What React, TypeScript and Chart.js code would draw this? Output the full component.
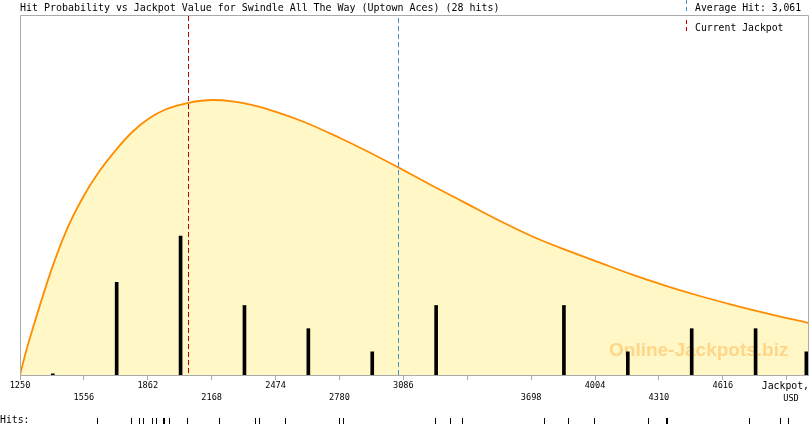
import React, { useEffect, useRef } from 'react';
import { Chart, registerables } from 'chart.js';

Chart.register(...registerables);

const chartTitle = 'Hit Probability vs Jackpot Value for Swindle All The Way (Uptown Aces) (28 hits)';
const xMin = 1250;
const xMax = 5024;

const tickValues = [1250, 1556, 1862, 2168, 2474, 2780, 3086, 3392, 3698, 4004, 4310, 4616, 4922];
const tickLabelsRow1 = ['1250', '', '1862', '', '2474', '', '3086', '', '', '4004', '', '4616', ''];
const tickLabelsRow2 = ['', '1556', '', '2168', '', '2780', '', '', '3698', '', '4310', '', ''];

const bucketCenters = [1407, 1713, 2019, 2325, 2631, 2937, 3243, 3549, 3855, 4161, 4467, 4773, 5016];
const bucketHits = [0.05, 4, 6, 3, 2, 1, 3, 0, 3, 1, 2, 2, 1];

const curveX = [1250, 1277, 1309, 1397, 1469, 1549, 1629, 1709, 1789, 1869, 1949, 2057, 2172, 2268, 2364, 2476, 2620, 2780, 2908, 3068, 3227, 3387, 3547, 3707, 3867, 4027, 4186, 4347, 4506, 4666, 4826, 5024];
const curveY = [0, 0.95, 1.94, 4.45, 6.17, 7.63, 8.78, 9.71, 10.5, 11.08, 11.47, 11.75, 11.87, 11.81, 11.65, 11.36, 10.89, 10.24, 9.68, 8.93, 8.16, 7.41, 6.66, 5.97, 5.39, 4.85, 4.32, 3.84, 3.41, 3.02, 2.66, 2.25];

const hitValues = [1621, 1784, 1822, 1841, 1880, 1899, 1937, 1942, 1963, 2048, 2201, 2374, 2393, 2518, 2776, 2796, 3237, 3309, 3366, 3760, 3875, 3999, 4258, 4345, 4350, 4743, 4891, 4930];

const currentJackpot = 2057;
const averageHit = 3061;

const MONO = '"DejaVu Sans Mono", monospace';

const overlayPlugin = {
  id: 'overlayPlugin',
  afterDatasetDraw(chart: any, args: any) {
    if (args.index !== 1) return;
    const { ctx, chartArea } = chart;
    const xs = chart.scales.x;
    ctx.save();
    // watermark
    ctx.font = 'bold 19px "Liberation Sans", Arial, sans-serif';
    ctx.fillStyle = 'rgba(255,165,50,0.42)';
    ctx.textAlign = 'left';
    ctx.textBaseline = 'alphabetic';
    ctx.fillText('Online-Jackpots.biz', chartArea.right - 199, chartArea.bottom - 19);
    // dashed lines
    ctx.lineWidth = 1;
    ctx.setLineDash([5, 3]);
    const cj = Math.round(xs.getPixelForValue(currentJackpot)) + 0.5;
    ctx.strokeStyle = '#b80000';
    ctx.beginPath();
    ctx.moveTo(cj, chartArea.top + 1);
    ctx.lineTo(cj, chartArea.bottom);
    ctx.stroke();
    const ah = Math.round(xs.getPixelForValue(averageHit)) + 0.5;
    ctx.strokeStyle = '#4a90c2';
    ctx.beginPath();
    ctx.moveTo(ah, chartArea.top + 3);
    ctx.lineTo(ah, chartArea.bottom);
    ctx.stroke();
    ctx.restore();
  },
  afterDraw(chart: any) {
    const { ctx, chartArea } = chart;
    const xs = chart.scales.x;
    ctx.save();
    // frame
    ctx.strokeStyle = '#aaaaaa';
    ctx.lineWidth = 1;
    ctx.setLineDash([]);
    ctx.beginPath();
    ctx.moveTo(chartArea.left + 0.5, chartArea.bottom);
    ctx.lineTo(chartArea.left + 0.5, chartArea.top + 0.5);
    ctx.lineTo(chartArea.right + 0.5, chartArea.top + 0.5);
    ctx.lineTo(chartArea.right + 0.5, chartArea.bottom);
    ctx.stroke();
    // title, fitted to its width in the reference
    ctx.fillStyle = '#000';
    ctx.textAlign = 'left';
    ctx.textBaseline = 'alphabetic';
    ctx.font = `10px ${MONO}`;
    const w = ctx.measureText(chartTitle).width;
    const titleSize = Math.max(8, Math.min(11, (10 * 480) / w));
    ctx.font = `${titleSize}px ${MONO}`;
    ctx.fillText(chartTitle, chartArea.left, 10.5);
    // legend
    ctx.font = `9.8px ${MONO}`;
    const lx = 686.5;
    ctx.setLineDash([4, 3]);
    ctx.strokeStyle = '#4a90c2';
    ctx.beginPath();
    ctx.moveTo(lx, 0);
    ctx.lineTo(lx, 12);
    ctx.stroke();
    ctx.strokeStyle = '#b80000';
    ctx.beginPath();
    ctx.moveTo(lx, 20);
    ctx.lineTo(lx, 32);
    ctx.stroke();
    ctx.setLineDash([]);
    ctx.fillText('Average Hit: ' + averageHit.toLocaleString('en-US'), 695, 10.5);
    ctx.fillText('Current Jackpot', 695, 30.5);
    // axis unit
    ctx.textAlign = 'right';
    ctx.fillText('Jackpot,', chartArea.right + 1, 388.5);
    ctx.textAlign = 'center';
    ctx.font = `8.6px ${MONO}`;
    ctx.fillText('USD', chartArea.right - 17, 400.5);
    // hits row
    ctx.textAlign = 'left';
    ctx.font = `9.8px ${MONO}`;
    ctx.fillText('Hits:', 0, 423.3);
    ctx.strokeStyle = '#000';
    ctx.beginPath();
    hitValues.forEach((h) => {
      const px = Math.round(xs.getPixelForValue(h)) + 0.5;
      ctx.moveTo(px, chartArea.bottom + 43);
      ctx.lineTo(px, chartArea.bottom + 49);
    });
    ctx.stroke();
    ctx.restore();
  },
};

export default function App() {
  const canvasRef = useRef<HTMLCanvasElement | null>(null);

  useEffect(() => {
    if (!canvasRef.current) return;
    const chart = new Chart(canvasRef.current, {
      type: 'line',
      data: {
        datasets: [
          {
            type: 'bar',
            label: 'Hits',
            data: bucketCenters.map((x, i) => ({ x, y: bucketHits[i] === 0 ? null : bucketHits[i] })),
            backgroundColor: '#000000',
            borderWidth: 0,
            barThickness: 3,
          } as any,
          {
            type: 'line',
            label: 'Probability',
            data: curveX.map((x, i) => ({ x, y: curveY[i] })),
            borderColor: '#ff8c00',
            borderWidth: 1.8,
            backgroundColor: '#fff8c6',
            fill: 'origin',
            pointRadius: 0,
            cubicInterpolationMode: 'monotone',
          } as any,
        ],
      },
      options: {
        animation: false,
        responsive: true,
        maintainAspectRatio: false,
        layout: { padding: { left: 20, right: 2, top: 15, bottom: 0 } },
        plugins: {
          legend: { display: false },
          tooltip: { enabled: false },
          title: { display: false },
        },
        scales: {
          x: {
            type: 'linear',
            min: xMin,
            max: xMax,
            offset: false,
            afterBuildTicks: (s: any) => {
              s.ticks = tickValues.map((v) => ({ value: v }));
            },
            afterFit: (s: any) => {
              s.height = 50;
            },
            border: { display: true, color: '#aaaaaa', width: 1 },
            grid: {
              display: true,
              offset: false,
              drawOnChartArea: false,
              drawTicks: true,
              tickLength: 5,
              color: '#aaaaaa',
            },
            ticks: {
              autoSkip: false,
              maxRotation: 0,
              minRotation: 0,
              padding: -0.5,
              color: '#000000',
              font: { family: 'DejaVu Sans Mono', size: 8.6, lineHeight: 1.45 },
              callback: (_v: any, i: number) => [tickLabelsRow1[i] ?? '', tickLabelsRow2[i] ?? ''],
            },
          } as any,
          y: {
            type: 'linear',
            display: false,
            min: 0,
            max: 15.54,
          },
        },
      },
      plugins: [overlayPlugin],
    });
    return () => chart.destroy();
  }, []);

  return (
    <div style={{ position: 'absolute', left: 0, top: 0, width: 810, height: 425, background: '#fff' }}>
      <canvas ref={canvasRef} />
    </div>
  );
}
